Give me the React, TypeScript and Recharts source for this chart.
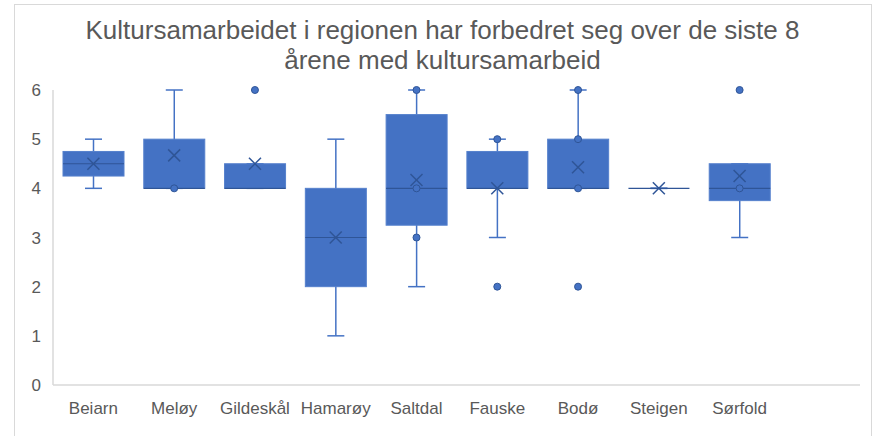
import { ComposedChart, Bar, Scatter, XAxis, YAxis } from 'recharts'

const categories = ['Beiarn', 'Meløy', 'Gildeskål', 'Hamarøy', 'Saltdal', 'Fauske', 'Bodø', 'Steigen', 'Sørfold']
const minValues = [4, 4, 4, 1, 2, 3, 4, 4, 3]
const q1Values = [4.25, 4, 4, 2, 3.25, 4, 4, 4, 3.75]
const medianValues = [4.5, 4, 4, 3, 4, 4, 4, 4, 4]
const q3Values = [4.75, 5, 4.5, 4, 5.5, 4.75, 5, 4, 4.5]
const maxValues = [5, 6, 4.5, 5, 6, 5, 6, 4, 4.5]
const meanValues = [4.5, 4.67, 4.5, 3, 4.17, 4, 4.43, 4, 4.25]

const pointCategories = ['Meløy', 'Gildeskål', 'Saltdal', 'Saltdal', 'Saltdal', 'Fauske', 'Fauske', 'Bodø', 'Bodø', 'Bodø', 'Bodø', 'Sørfold', 'Sørfold']
const pointValues = [4, 6, 6, 4, 3, 5, 2, 6, 5, 4, 2, 6, 4]

const yTicks = [0, 1, 2, 3, 4, 5, 6]

const data = categories.map((name, i) => ({
  name,
  min: minValues[i],
  q1: q1Values[i],
  median: medianValues[i],
  q3: q3Values[i],
  max: maxValues[i],
  mean: meanValues[i],
}))

const points = pointCategories.map((name, i) => ({ name, value: pointValues[i] }))

const BLUE = '#4472C4'
const DARK = '#2F5597'
const TEXT = '#595959'
const FONT = '"Liberation Sans", Arial, sans-serif'

const WhiskerShape = (props: any) => {
  const { x, y, width, height } = props
  const cx = x + width / 2
  const cap = 8.5
  return (
    <g stroke={BLUE} strokeWidth={1.5}>
      <line x1={cx} x2={cx} y1={y} y2={y + height} />
      <line x1={cx - cap} x2={cx + cap} y1={y} y2={y} />
      <line x1={cx - cap} x2={cx + cap} y1={y + height} y2={y + height} />
    </g>
  )
}

const BoxShape = (props: any) => {
  const { x, y, width, height, payload } = props
  const span = payload.q3 - payload.q1
  const my = span > 0 ? y + (height * (payload.q3 - payload.median)) / span : y
  return (
    <g>
      <rect x={x} y={y} width={width} height={Math.max(height, 0)} fill={BLUE} stroke="#5580CC" strokeWidth={1} />
      <line x1={x} x2={x + width} y1={my} y2={my} stroke={DARK} strokeWidth={1.2} />
    </g>
  )
}

const MeanShape = (props: any) => {
  const { cx, cy } = props
  const s = 6
  return (
    <g stroke={DARK} strokeWidth={1.5}>
      <line x1={cx - s} y1={cy - s} x2={cx + s} y2={cy + s} />
      <line x1={cx - s} y1={cy + s} x2={cx + s} y2={cy - s} />
    </g>
  )
}

const DotShape = (props: any) => {
  const { cx, cy } = props
  return <circle cx={cx} cy={cy} r={3.5} fill={BLUE} stroke={DARK} strokeWidth={1} />
}

export default function App() {
  return (
    <div style={{ position: 'absolute', left: 0, top: 0, width: 874, height: 436, background: '#fff', overflow: 'hidden', fontFamily: FONT }}>
      <div style={{ position: 'absolute', left: 14, top: 4, width: 856, height: 460, border: '1px solid #D9D9D9' }} />
      <div style={{ position: 'absolute', left: 14, top: 15, width: 857, textAlign: 'center', color: TEXT, fontSize: 26, lineHeight: '30px' }}>
        Kultursamarbeidet i regionen har forbedret seg over de siste 8
        <br />
        årene med kultursamarbeid
      </div>
      <div style={{ position: 'absolute', left: 0, top: 0 }}>
        <ComposedChart width={874} height={436} data={data} margin={{ top: 90, right: 14, bottom: 0, left: 0 }}>
          <XAxis
            dataKey="name"
            allowDuplicatedCategory={false}
            padding={{ left: 0, right: 80 }}
            height={51}
            tickLine={false}
            tickSize={0}
            tickMargin={17}
            axisLine={{ stroke: '#D9D9D9', strokeWidth: 1.5 }}
            tick={{ fill: TEXT, fontSize: 17, fontFamily: FONT }}
            interval={0}
          />
          <XAxis xAxisId="w" dataKey="name" hide padding={{ left: 0, right: 80 }} />
          <YAxis
            domain={[0, 6]}
            ticks={yTicks}
            width={53}
            tickLine={false}
            tickSize={0}
            tickMargin={12}
            axisLine={{ stroke: '#D9D9D9', strokeWidth: 1.5 }}
            tick={{ fill: TEXT, fontSize: 17, fontFamily: FONT }}
          />
          <Bar xAxisId="w" dataKey={(d: any) => [d.min, d.max]} barSize={61} shape={WhiskerShape} isAnimationActive={false} />
          <Bar dataKey={(d: any) => [d.q1, d.q3]} barSize={61} shape={BoxShape} isAnimationActive={false} />
          <Scatter dataKey="mean" shape={MeanShape} isAnimationActive={false} />
          <Scatter data={points} dataKey="value" shape={DotShape} isAnimationActive={false} />
        </ComposedChart>
      </div>
    </div>
  )
}
